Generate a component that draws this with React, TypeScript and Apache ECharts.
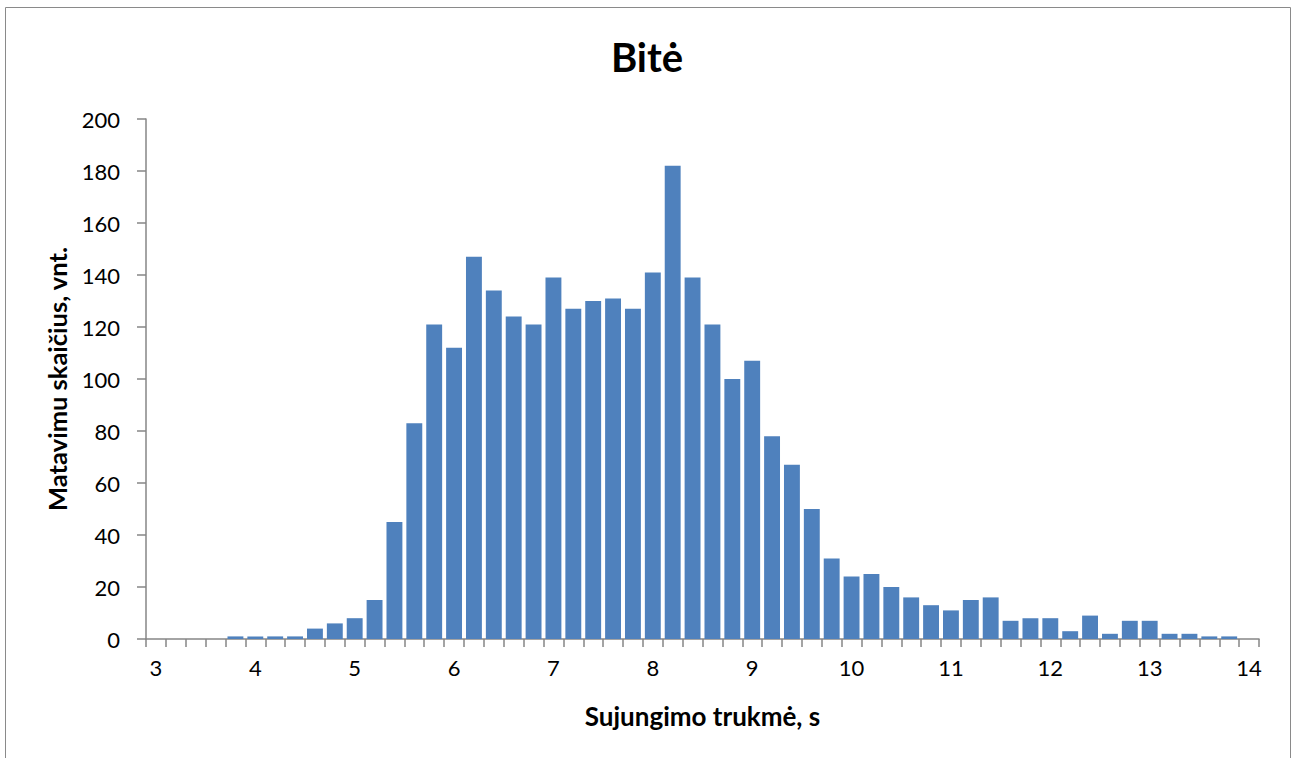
import React, { useEffect, useRef } from "react";
import * as echarts from "echarts";

const categories = [
  "3", "3.2", "3.4", "3.6", "3.8", "4", "4.2", "4.4", "4.6", "4.8",
  "5", "5.2", "5.4", "5.6", "5.8", "6", "6.2", "6.4", "6.6", "6.8",
  "7", "7.2", "7.4", "7.6", "7.8", "8", "8.2", "8.4", "8.6", "8.8",
  "9", "9.2", "9.4", "9.6", "9.8", "10", "10.2", "10.4", "10.6", "10.8",
  "11", "11.2", "11.4", "11.6", "11.8", "12", "12.2", "12.4", "12.6", "12.8",
  "13", "13.2", "13.4", "13.6", "13.8", "14",
];

const counts = [
  0, 0, 0, 0, 1, 1, 1, 1, 4, 6,
  8, 15, 45, 83, 121, 112, 147, 134, 124, 121,
  139, 127, 130, 131, 127, 141, 182, 139, 121, 100,
  107, 78, 67, 50, 31, 24, 25, 20, 16, 13,
  11, 15, 16, 7, 8, 8, 3, 9, 2, 7,
  7, 2, 2, 1, 1, 0,
];

const yTicks = [0, 20, 40, 60, 80, 100, 120, 140, 160, 180, 200];

const titleText = "Bitė";
const xName = "Sujungimo trukmė, s";
const yName = "Matavimu skaičius, vnt.";

const FONT = "Lato, 'Open Sans', sans-serif";
const AXIS_GRAY = "#868686";

export default function App() {
  const ref = useRef<HTMLDivElement>(null);

  useEffect(() => {
    if (!ref.current) return;
    const chart = echarts.init(ref.current, undefined, { renderer: "svg" });
    chart.setOption({
      animation: false,
      backgroundColor: "#ffffff",
      textStyle: { fontFamily: FONT },
      title: {
        text: titleText,
        left: 642,
        textAlign: "center",
        top: 32,
        textStyle: {
          fontFamily: FONT,
          fontSize: 40,
          fontWeight: "bold",
          color: "#000000",
        },
      },
      graphic: [
        {
          type: "rect",
          shape: { x: 5.5, y: 7.5, width: 1285, height: 800 },
          style: { fill: "none", stroke: "#8a8a8a", lineWidth: 1 },
          silent: true,
        },
      ],
      grid: { left: 146, right: 40, top: 119, bottom: 119, containLabel: false },
      xAxis: {
        type: "category",
        data: categories,
        boundaryGap: true,
        name: xName,
        nameLocation: "middle",
        nameGap: 64,
        nameTextStyle: {
          fontFamily: FONT,
          fontSize: 26,
          fontWeight: "bold",
          color: "#000000",
        },
        axisLine: { show: true, lineStyle: { color: AXIS_GRAY, width: 1.5 } },
        axisTick: {
          show: true,
          interval: 0,
          alignWithLabel: false,
          length: 8,
          lineStyle: { color: AXIS_GRAY, width: 1.5 },
        },
        axisLabel: {
          interval: 4,
          margin: 17,
          fontFamily: FONT,
          fontSize: 22,
          color: "#000000",
        },
        splitLine: { show: false },
      },
      yAxis: {
        type: "value",
        min: yTicks[0],
        max: yTicks[yTicks.length - 1],
        interval: 20,
        name: yName,
        nameLocation: "middle",
        nameGap: 76,
        nameRotate: 90,
        nameTextStyle: {
          fontFamily: FONT,
          fontSize: 25.5,
          fontWeight: "bold",
          color: "#000000",
        },
        axisLine: { show: true, lineStyle: { color: AXIS_GRAY, width: 1.5 } },
        axisTick: { show: true, length: 9, lineStyle: { color: AXIS_GRAY, width: 1.5 } },
        axisLabel: {
          margin: 26,
          fontFamily: FONT,
          fontSize: 22,
          color: "#000000",
        },
        splitLine: { show: false },
      },
      series: [
        {
          type: "bar",
          data: counts,
          barCategoryGap: "20%",
          itemStyle: { color: "#4F81BD" },
        },
      ],
    });
    return () => chart.dispose();
  }, []);

  return (
    <div
      ref={ref}
      style={{ position: "absolute", left: 0, top: 0, width: 1299, height: 758 }}
    />
  );
}
